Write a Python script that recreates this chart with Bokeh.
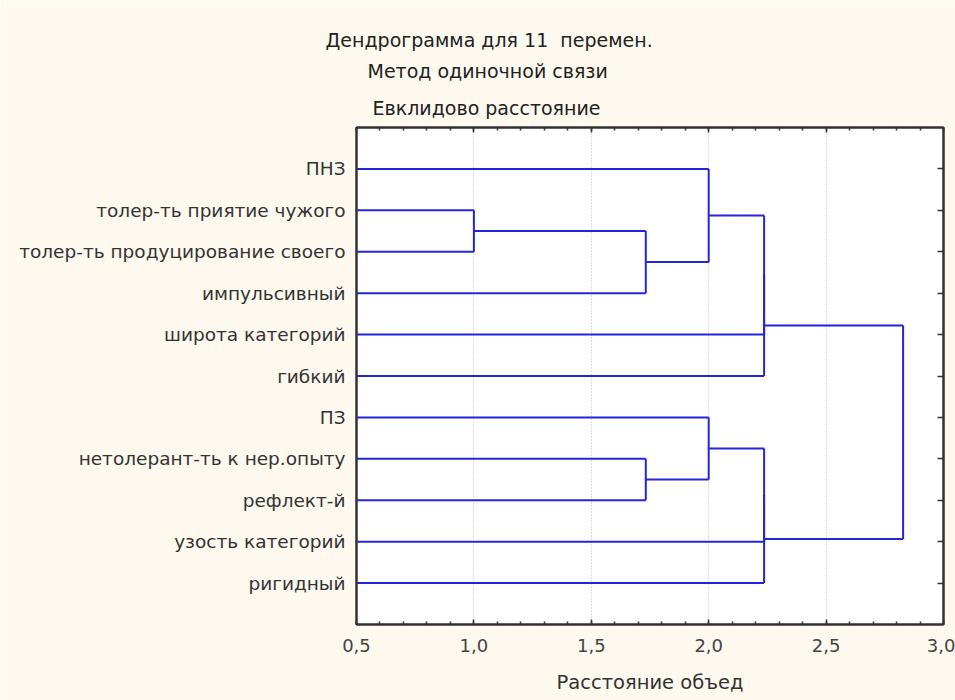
from bokeh.plotting import figure
from bokeh.models import (Range1d, LinearAxis, FixedTicker, CustomJSTickFormatter, Title)
from bokeh.embed import file_html
from bokeh.resources import INLINE

# ---- data ----
title_lines = ["Дендрограмма для 11  перемен.", "Метод одиночной связи", "Евклидово расстояние"]
x_label = "Расстояние объед"
leaf_labels = [
    "ПНЗ",
    "толер-ть приятие чужого",
    "толер-ть продуцирование своего",
    "импульсивный",
    "широта категорий",
    "гибкий",
    "ПЗ",
    "нетолерант-ть к нер.опыту",
    "рефлект-й",
    "узость категорий",
    "ригидный",
]
# linkage: (child a, child b, distance); leaves 0..10, new nodes 11..
merge_a = [1, 11, 7, 0, 6, 14, 16, 15, 18, 17]
merge_b = [2, 3, 8, 12, 13, 4, 5, 9, 10, 19]
merge_dist = [1.0, 1.732, 1.732, 2.0, 2.0, 2.236, 2.236, 2.236, 2.236, 2.828]
x_ticks = [0.5, 1.0, 1.5, 2.0, 2.5, 3.0]
x_minor = [round(0.5 + 0.1 * i, 2) for i in range(26)]

# ---- build segments ----
n = len(leaf_labels)
pos = {i: i + 1 for i in range(n)}
hgt = {i: 0.0 for i in range(n)}
x0, y0, x1, y1 = [], [], [], []
for k, (a, b, d) in enumerate(zip(merge_a, merge_b, merge_dist)):
    node = n + k
    for c in (a, b):
        x0.append(hgt[c]); y0.append(pos[c]); x1.append(d); y1.append(pos[c])
    x0.append(d); y0.append(pos[a]); x1.append(d); y1.append(pos[b])
    pos[node] = (pos[a] + pos[b]) / 2
    hgt[node] = d

BG = "#fdf9ef"
AX = "#333333"
FONT = "DejaVu Sans"

p = figure(width=955, height=700, output_backend="svg", toolbar_location=None,
           x_range=Range1d(0.5, 3.0), y_range=Range1d(n + 1, 0),
           x_axis_location=None, y_axis_location=None,
           min_border_left=356, min_border_right=12, min_border_top=127, min_border_bottom=76)
p.title.visible = False
p.border_fill_color = BG
p.background_fill_color = "white"
p.outline_line_color = AX
p.outline_line_width = 2

p.segment(x0=x0, y0=y0, x1=x1, y1=y1, line_color="#2424dc", line_width=2)

comma_fmt = CustomJSTickFormatter(code="return tick.toFixed(1).replace('.', ',');")
blank_fmt = CustomJSTickFormatter(code="return '';")
leaf_fmt = CustomJSTickFormatter(args=dict(labels=leaf_labels),
                                 code="return labels[Math.round(tick) - 1] || '';")

def style(ax):
    ax.axis_line_color = AX
    ax.axis_line_width = 2
    ax.major_tick_line_color = AX
    ax.minor_tick_line_color = AX
    ax.major_tick_line_width = 1.5
    ax.minor_tick_line_width = 1.5
    ax.major_tick_out = 0
    ax.minor_tick_out = 0

xt = FixedTicker(ticks=x_ticks, minor_ticks=x_minor)
bottom = LinearAxis(ticker=xt, formatter=comma_fmt, axis_label=x_label)
style(bottom)
bottom.major_tick_in = 5
bottom.minor_tick_in = 3
bottom.major_label_text_font = FONT
bottom.major_label_text_font_size = "18px"
bottom.major_label_text_color = "#444444"
bottom.major_label_standoff = 14
bottom.axis_label_text_font = FONT
bottom.axis_label_text_font_size = "19.5px"
bottom.axis_label_text_font_style = "normal"
bottom.axis_label_text_color = "#333333"
bottom.axis_label_standoff = 16
p.add_layout(bottom, "below")

top = LinearAxis(ticker=FixedTicker(ticks=x_ticks, minor_ticks=x_minor), formatter=blank_fmt)
style(top)
top.major_tick_in = 5
top.minor_tick_in = 3
top.major_label_standoff = 0
p.add_layout(top, "above")

yt = FixedTicker(ticks=list(range(1, n + 1)), minor_ticks=[])
left = LinearAxis(ticker=yt, formatter=leaf_fmt)
style(left)
left.major_tick_in = 0
left.major_label_text_font = FONT
left.major_label_text_font_size = "18.5px"
left.major_label_text_color = "#333333"
left.major_label_standoff = 11
p.add_layout(left, "left")

right = LinearAxis(ticker=FixedTicker(ticks=list(range(1, n + 1)), minor_ticks=[]), formatter=blank_fmt)
style(right)
right.major_tick_in = 6
right.major_label_standoff = 0
p.add_layout(right, "right")

p.xgrid.ticker = xt
p.xgrid.grid_line_color = "#b8bccc"
p.xgrid.grid_line_dash = "1 2"
p.xgrid.grid_line_width = 1
p.ygrid.grid_line_color = None

# title lines stacked outward from the frame: last line first
title_offsets = [-31, 11, 16]
title_standoffs = [7, 7, 18]
for txt, off, so in reversed(list(zip(title_lines, title_offsets, title_standoffs))):
    p.add_layout(Title(text=txt.replace("  ", " \u00a0"), align="left", offset=off, standoff=so,
                       text_font=FONT, text_font_size="19px", text_font_style="normal",
                       text_color="#222222"), "above")

open("out.html", "w").write(file_html(p, INLINE))
